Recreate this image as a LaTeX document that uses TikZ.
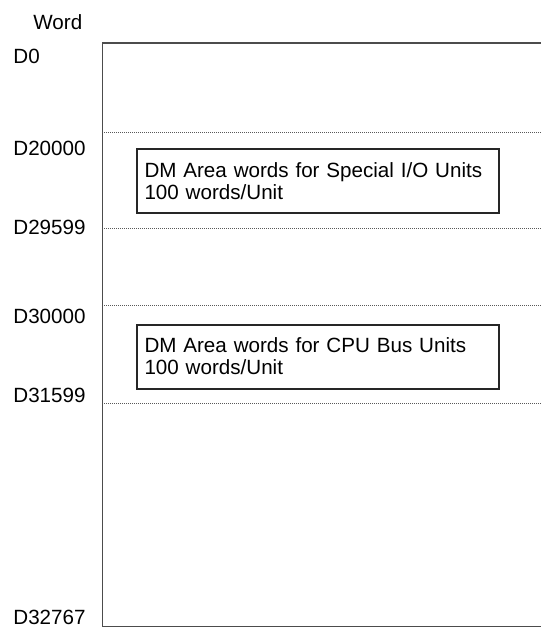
\documentclass[tikz,border=0pt]{standalone}
\usepackage{fontspec}
\setmainfont{Liberation Sans}
\usetikzlibrary{positioning}

\begin{document}
\begin{tikzpicture}[
  x=0.5pt, y=-0.5pt,
  area/.style={rectangle, draw=black!85, line width=1pt,
               minimum height=32pt, text width=173pt,
               inner xsep=4pt, inner ysep=0pt, align=left,
               font=\fontsize{10.3}{11}\selectfont},
  addr/.style={anchor=west, inner sep=0pt, font=\fontsize{10.3}{11}\selectfont},
  frame/.style={line width=0.9pt, color=black!70},
  sep/.style={dash pattern=on 0.5pt off 0.5pt, line width=0.4pt, color=black!65}
]
  \useasboundingbox (0,0) rectangle (541,628);

  % Word axis labels
  \node[addr] (word)  at (33,22)   {Word};
  \node[addr] (d0)    at (13,56)   {D0};
  \node[addr] (d20k)  at (13,148)  {D20000};
  \node[addr] (d295)  at (13,227)  {D29599};
  \node[addr] (d30k)  at (13,316)  {D30000};
  \node[addr] (d315)  at (13,395)  {D31599};
  \node[addr] (d327)  at (13,617)  {D32767};

  % Memory frame (open on the right)
  \coordinate (tr) at (541,43);
  \coordinate (tl) at (102.5,43);
  \coordinate (bl) at (102.5,626.5);
  \coordinate (br) at (541,626.5);
  \draw[frame] (tr) -- (tl) -- (bl) -- (br);

  % Area boundaries
  \foreach \yy/\nm in {132/a, 228/b, 305/c, 403/d} {
    \coordinate (\nm l) at (104,\yy);
    \coordinate (\nm r) at (541,\yy);
    \draw[sep] (\nm l) -- (\nm r);
  }

  % Special I/O Units
  \node[area] (sio) at (317.5,181) {
    DM Area words for Special I/O Units \\
    100 words/Unit
  };

  % CPU Bus Units
  \node[area] (cpu) at (317.5,356.5) {
    DM Area words for CPU Bus Units \\
    100 words/Unit
  };
\end{tikzpicture}
\end{document}
